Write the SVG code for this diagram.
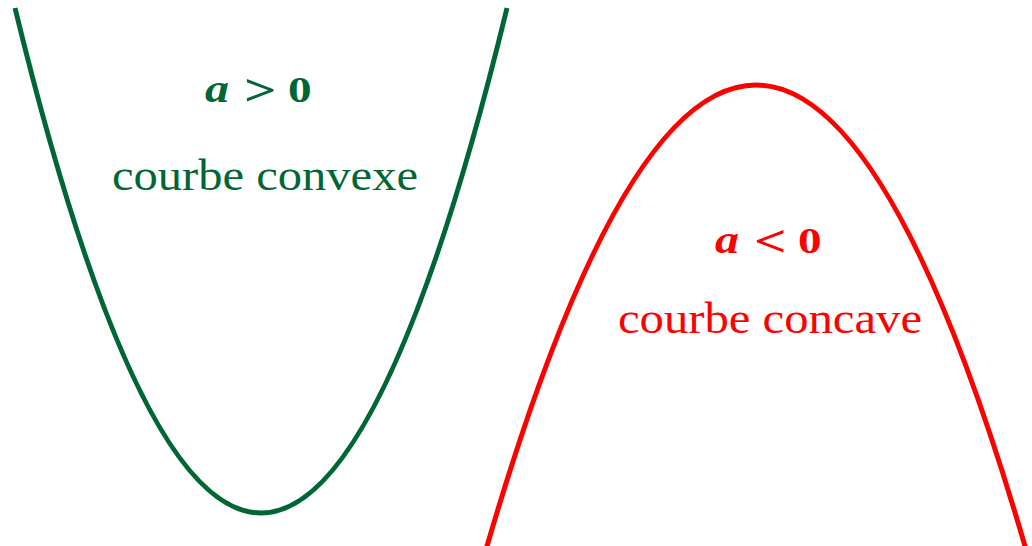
<svg xmlns="http://www.w3.org/2000/svg" width="1032" height="546" viewBox="0 0 1032 546">
<style>
.curve{fill:none;stroke-width:5;stroke-linecap:butt}
.g{fill:#006633}
.r{fill:#ff0000}
.math{font-family:"Liberation Serif","DejaVu Serif",serif;font-weight:bold}
.var{font-size:40px;font-style:italic}
.rel{font-size:44px}
.num{font-size:35px}
.lbl{font-family:"Liberation Serif","DejaVu Serif",serif;font-size:45px}
</style>
<rect width="1032" height="546" fill="#ffffff"/>
<g id="connectors">
<path id="convex-curve" class="curve" stroke="#006633" d="M15,8 Q261,1018 507,8"/>
<path id="concave-curve" class="curve" stroke="#ff0000" d="M483,560 Q756,-390 1029,560"/>
</g>
<g id="convex-label">
<text class="math var g" transform="translate(205,102) scale(1.2,1)">a</text>
<text class="math rel g" transform="translate(244,105) scale(1.3,1)">&gt;</text>
<text class="math num g" transform="translate(288,102) scale(1.35,1)">0</text>
<text class="lbl g" x="112" y="190" textLength="306" lengthAdjust="spacingAndGlyphs">courbe convexe</text>
</g>
<g id="concave-label">
<text class="math var r" transform="translate(715,253) scale(1.2,1)">a</text>
<text class="math rel r" transform="translate(754,256) scale(1.3,1)">&lt;</text>
<text class="math num r" transform="translate(798,253) scale(1.35,1)">0</text>
<text class="lbl r" x="618" y="333" textLength="304" lengthAdjust="spacingAndGlyphs">courbe concave</text>
</g>
</svg>
